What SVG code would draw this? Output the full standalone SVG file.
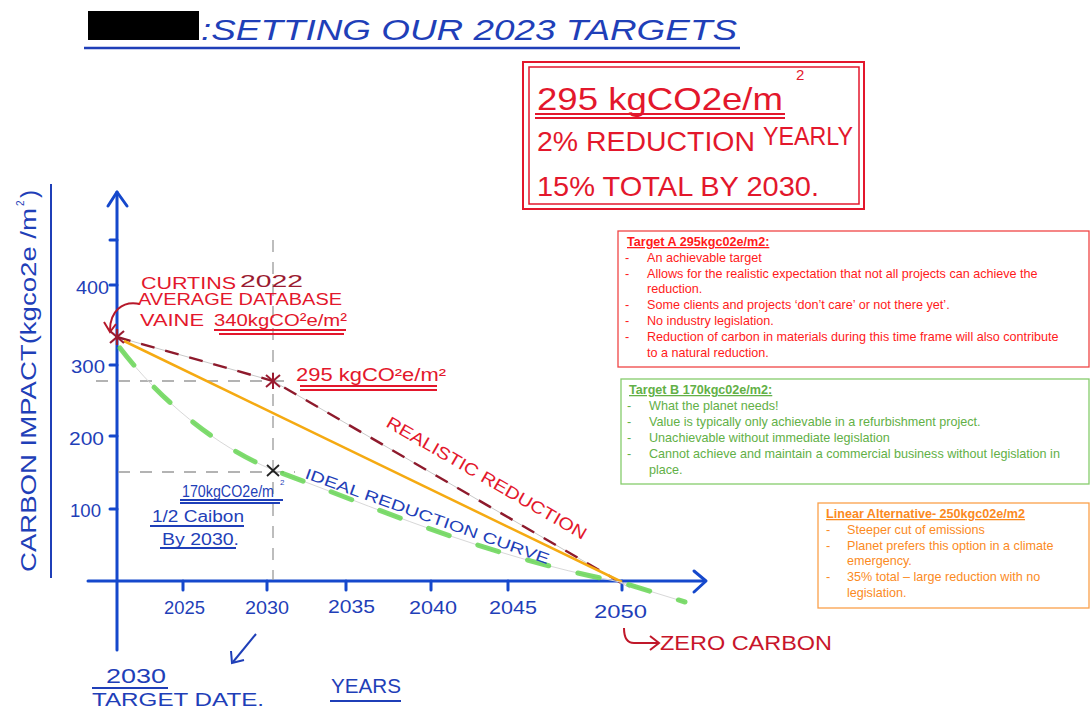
<svg xmlns="http://www.w3.org/2000/svg" width="1090" height="711" viewBox="0 0 1090 711">
  <defs>
    <style>
      .hand { font-family: "Liberation Sans", "DejaVu Sans", sans-serif; }
      .blue { fill: #1f3fb8; }
      .red { fill: #e3172c; }
      .dred { fill: #9b1b30; }
      .axis { stroke: #1548cc; stroke-width: 3; fill: none; stroke-linecap: round; stroke-linejoin: round; }
      .grid { stroke: #9a9a9a; stroke-width: 1.3; stroke-dasharray: 12 10; fill: none; }
      .ul-blue { stroke: #1f3fb8; stroke-width: 1.8; fill: none; }
      .ul-red { stroke: #e3172c; stroke-width: 2; fill: none; }
      .note { font-family: "Liberation Sans", Arial, sans-serif; font-size: 12.6px; }
      .noteh { font-weight: bold; text-decoration: underline; }
    </style>
  </defs>

  <rect width="1090" height="711" fill="#ffffff"/>

  <!-- heading -->
  <g id="title">
    <rect x="88" y="11" width="111" height="29" fill="#000000"/>
    <text class="hand blue" x="201" y="40" font-size="29" font-style="italic" textLength="536" lengthAdjust="spacingAndGlyphs">:SETTING OUR 2023 TARGETS</text>
    <line x1="84" y1="48" x2="740" y2="48" stroke="#1f3fb8" stroke-width="2.5"/>
  </g>

  <!-- headline target box -->
  <g id="target-box">
    <rect x="523" y="62" width="341" height="147" fill="none" stroke="#e3172c" stroke-width="2"/>
    <rect x="529" y="67" width="330" height="137" fill="none" stroke="#e3172c" stroke-width="1.5"/>
    <text class="hand red" x="537" y="110" font-size="32" textLength="246" lengthAdjust="spacingAndGlyphs">295 kgCO2e/m</text>
    <text class="hand red" x="796" y="80" font-size="15">2</text>
    <line class="ul-red" x1="535" y1="114" x2="785" y2="114"/>
    <line class="ul-red" x1="535" y1="118" x2="785" y2="118"/>
    <text class="hand red" x="537" y="151" font-size="27" textLength="218" lengthAdjust="spacingAndGlyphs">2% REDUCTION</text>
    <text class="hand red" x="763" y="145" font-size="26" textLength="90" lengthAdjust="spacingAndGlyphs">YEARLY</text>
    <text class="hand red" x="537" y="196" font-size="28" textLength="282" lengthAdjust="spacingAndGlyphs">15% TOTAL BY 2030.</text>
  </g>

  <!-- axes -->
  <g id="axes">
    <line class="axis" x1="117" y1="192" x2="117" y2="650"/>
    <polyline class="axis" points="108,206 117,192 127,206"/>
    <line class="axis" x1="88" y1="581" x2="705" y2="581"/>
    <polyline class="axis" points="694,571 706,581 694,592"/>
    <!-- y ticks -->
    <line class="axis" x1="110" y1="240" x2="117" y2="240"/>
    <line class="axis" x1="110" y1="285" x2="117" y2="285"/>
    <line class="axis" x1="110" y1="365" x2="117" y2="365"/>
    <line class="axis" x1="110" y1="436" x2="117" y2="436"/>
    <line class="axis" x1="110" y1="509" x2="117" y2="509"/>
    <!-- x ticks -->
    <line class="axis" x1="183" y1="581" x2="183" y2="590"/>
    <line class="axis" x1="267" y1="581" x2="267" y2="590"/>
    <line class="axis" x1="346" y1="581" x2="346" y2="590"/>
    <line class="axis" x1="431" y1="581" x2="431" y2="590"/>
    <line class="axis" x1="508" y1="581" x2="508" y2="590"/>
    <line class="axis" x1="622" y1="581" x2="622" y2="590"/>
    <!-- y values -->
    <text class="hand blue" x="76" y="294" font-size="19" textLength="33" lengthAdjust="spacingAndGlyphs">400</text>
    <text class="hand blue" x="71" y="373" font-size="19" textLength="34" lengthAdjust="spacingAndGlyphs">300</text>
    <text class="hand blue" x="69" y="445" font-size="19" textLength="35" lengthAdjust="spacingAndGlyphs">200</text>
    <text class="hand blue" x="70" y="517" font-size="19" textLength="31" lengthAdjust="spacingAndGlyphs">100</text>
    <!-- x values -->
    <text class="hand blue" x="164" y="614" font-size="18" textLength="41" lengthAdjust="spacingAndGlyphs">2025</text>
    <text class="hand blue" x="245" y="614" font-size="18" textLength="44" lengthAdjust="spacingAndGlyphs">2030</text>
    <text class="hand blue" x="328" y="613" font-size="18" textLength="47" lengthAdjust="spacingAndGlyphs">2035</text>
    <text class="hand blue" x="409" y="614" font-size="18" textLength="48" lengthAdjust="spacingAndGlyphs">2040</text>
    <text class="hand blue" x="489" y="614" font-size="18" textLength="48" lengthAdjust="spacingAndGlyphs">2045</text>
    <text class="hand blue" x="594" y="618" font-size="18" textLength="53" lengthAdjust="spacingAndGlyphs">2050</text>
    <!-- y title -->
    <text class="hand blue" transform="translate(36,572) rotate(-90)" font-size="22" textLength="364" lengthAdjust="spacingAndGlyphs">CARBON IMPACT(kgco2e /m</text>
    <text class="hand blue" transform="translate(24,206) rotate(-90)" font-size="10">2</text>
    <text class="hand blue" transform="translate(37,198) rotate(-90)" font-size="24">)</text>
    <line x1="51" y1="184" x2="51" y2="578" stroke="#1f3fb8" stroke-width="2"/>
    <!-- axis title -->
    <text class="hand blue" x="331" y="693" font-size="21" textLength="70" lengthAdjust="spacingAndGlyphs">YEARS</text>
    <line class="ul-blue" x1="330" y1="701" x2="401" y2="701"/>
  </g>

  <!-- guide lines -->
  <g id="guides">
    <line class="grid" x1="96" y1="381" x2="292" y2="381"/>
    <line class="grid" x1="118" y1="472" x2="295" y2="472"/>
    <line class="grid" x1="273" y1="240" x2="273" y2="580"/>
  </g>

  <!-- connectors: reduction paths -->
  <g id="connectors">
    <!-- realistic path -->
    <polyline points="117,337 273,381 630,588" fill="none" stroke="#c8c8c8" stroke-width="1"/>
    <polyline points="117,337 273,381 630,588" fill="none" stroke="#8e1a2c" stroke-width="2.4" stroke-dasharray="14 11"/>
    <!-- linear path -->
    <line x1="124" y1="341" x2="622" y2="582" stroke="#f5aa12" stroke-width="2.5"/>
    <!-- ideal curve -->
    <path d="M120,348 C160,400 215,446 273,470 C370,505 480,555 620,582 L685,602" fill="none" stroke="#d8d8d8" stroke-width="1"/>
    <path d="M120,348 C160,400 215,446 273,470 C370,505 480,555 620,582 L685,602" fill="none" stroke="#5ed34a" stroke-opacity="0.8" stroke-width="5" stroke-linecap="round" stroke-dasharray="22 30"/>
    <!-- pointer to 2030 -->
    <line x1="256" y1="634" x2="233" y2="662" stroke="#1f3fb8" stroke-width="2"/>
    <polyline points="231,651 232,663 244,660" fill="none" stroke="#1f3fb8" stroke-width="2"/>
    <!-- pointer to zero carbon -->
    <path d="M624,628 C624,636 626,643 634,643 L658,643" fill="none" stroke="#c0182a" stroke-width="2"/>
    <polyline points="650,636 659,643 650,650" fill="none" stroke="#c0182a" stroke-width="2"/>
    <!-- pointer to 2022 value -->
    <path d="M140,304 C122,300 110,312 110,330" fill="none" stroke="#b5182a" stroke-width="2"/>
    <polyline points="104,322 110,332 116,324" fill="none" stroke="#b5182a" stroke-width="2"/>
  </g>

  <!-- markers -->
  <g id="point-2022">
    <g stroke="#9b1b30" stroke-width="2.2">
      <line x1="110" y1="331" x2="124" y2="343"/>
      <line x1="110" y1="343" x2="124" y2="331"/>
      <line x1="117" y1="329" x2="117" y2="345"/>
    </g>
  </g>
  <g id="point-2030-realistic">
    <g stroke="#9b1b30" stroke-width="2">
      <line x1="266" y1="375" x2="280" y2="387"/>
      <line x1="266" y1="387" x2="280" y2="375"/>
      <line x1="273" y1="373" x2="273" y2="389"/>
    </g>
  </g>
  <g id="point-2030-ideal">
    <g stroke="#222222" stroke-width="1.8">
      <line x1="267" y1="465" x2="279" y2="476"/>
      <line x1="267" y1="476" x2="279" y2="465"/>
    </g>
  </g>

  <!-- chart annotations -->
  <g id="label-2022">
    <text class="hand red" x="141" y="289" font-size="16" textLength="95" lengthAdjust="spacingAndGlyphs">CURTINS</text>
    <text class="hand dred" x="240" y="287" font-size="17" textLength="63" lengthAdjust="spacingAndGlyphs">2022</text>
    <text class="hand red" x="138" y="305" font-size="16" textLength="204" lengthAdjust="spacingAndGlyphs">AVERAGE DATABASE</text>
    <text class="hand red" x="140" y="326" font-size="16" textLength="64" lengthAdjust="spacingAndGlyphs">VAINE</text>
    <text class="hand red" x="214" y="326" font-size="17" textLength="133" lengthAdjust="spacingAndGlyphs">340kgCO²e/m²</text>
    <line class="ul-red" x1="214" y1="330" x2="346" y2="330"/>
    <line class="ul-red" x1="219" y1="334" x2="344" y2="334"/>
  </g>
  <g id="label-295">
    <text class="hand red" x="296" y="381" font-size="18" textLength="150" lengthAdjust="spacingAndGlyphs">295 kgCO²e/m²</text>
    <line class="ul-red" x1="300" y1="386" x2="437" y2="386"/>
    <line class="ul-red" x1="300" y1="390" x2="437" y2="390"/>
  </g>
  <g id="label-realistic">
    <text class="hand red" transform="translate(385,426) rotate(30)" font-size="17" textLength="228" lengthAdjust="spacingAndGlyphs">REALISTIC REDUCTION</text>
  </g>
  <g id="label-ideal">
    <text class="hand blue" transform="translate(304,478) rotate(19.5)" font-size="15" textLength="258" lengthAdjust="spacingAndGlyphs">IDEAL REDUCTION CURVE</text>
  </g>
  <g id="label-170">
    <text class="hand blue" x="182" y="497" font-size="16" textLength="92" lengthAdjust="spacingAndGlyphs">170kgCO2e/m</text>
    <text class="hand blue" x="280" y="485" font-size="8">2</text>
    <line class="ul-blue" x1="180" y1="500" x2="283" y2="500"/>
    <line class="ul-blue" x1="180" y1="503" x2="280" y2="503"/>
    <text class="hand blue" x="152" y="522" font-size="16" textLength="92" lengthAdjust="spacingAndGlyphs">1/2 Caibon</text>
    <line class="ul-blue" x1="150" y1="526" x2="244" y2="526"/>
    <text class="hand blue" x="162" y="545" font-size="16" textLength="77" lengthAdjust="spacingAndGlyphs">By 2030.</text>
    <line class="ul-blue" x1="160" y1="548" x2="236" y2="548"/>
  </g>
  <g id="label-zero">
    <text x="660" y="650" font-family="Liberation Sans, sans-serif" font-size="20" fill="#c8152a" textLength="172" lengthAdjust="spacingAndGlyphs">ZERO CARBON</text>
  </g>
  <g id="label-target-date">
    <text class="hand blue" x="106" y="683" font-size="21" textLength="60" lengthAdjust="spacingAndGlyphs">2030</text>
    <line class="ul-blue" x1="92" y1="688" x2="168" y2="688"/>
    <text class="hand blue" x="92" y="706" font-size="19" textLength="172" lengthAdjust="spacingAndGlyphs">TARGET DATE.</text>
  </g>

  <!-- option notes -->
  <g id="note-target-a" class="note" fill="#ff1a1a">
    <rect x="618" y="231" width="471" height="136" fill="#ffffff" stroke="#f04545" stroke-width="1.3"/>
    <text x="627" y="246" class="noteh">Target A 295kgc02e/m2:</text>
    <text x="625" y="262">-</text><text x="647" y="262">An achievable target</text>
    <text x="625" y="278">-</text><text x="647" y="278">Allows for the realistic expectation that not all projects can achieve the</text>
    <text x="647" y="293">reduction.</text>
    <text x="625" y="309">-</text><text x="647" y="309">Some clients and projects ‘don’t care’ or not there yet’.</text>
    <text x="625" y="325">-</text><text x="647" y="325">No industry legislation.</text>
    <text x="625" y="341">-</text><text x="647" y="341">Reduction of carbon in materials during this time frame will also contribute</text>
    <text x="647" y="357">to a natural reduction.</text>
  </g>
  <g id="note-target-b" class="note" fill="#62b046">
    <rect x="621" y="379" width="468" height="105" fill="#ffffff" stroke="#86cc6c" stroke-width="1.3"/>
    <text x="629" y="394" class="noteh">Target B 170kgc02e/m2:</text>
    <text x="627" y="410">-</text><text x="649" y="410">What the planet needs!</text>
    <text x="627" y="426">-</text><text x="649" y="426">Value is typically only achievable in a refurbishment project.</text>
    <text x="627" y="442">-</text><text x="649" y="442">Unachievable without immediate legislation</text>
    <text x="627" y="458">-</text><text x="649" y="458">Cannot achieve and maintain a commercial business without legislation in</text>
    <text x="649" y="474">place.</text>
  </g>
  <g id="note-linear" class="note" fill="#fb8a1e">
    <rect x="818" y="503" width="271" height="105" fill="#ffffff" stroke="#fba04a" stroke-width="1.3"/>
    <text x="826" y="518" class="noteh">Linear Alternative- 250kgc02e/m2</text>
    <text x="826" y="534">-</text><text x="847" y="534">Steeper cut of emissions</text>
    <text x="826" y="550">-</text><text x="847" y="550">Planet prefers this option in a climate</text>
    <text x="847" y="565">emergency.</text>
    <text x="826" y="581">-</text><text x="847" y="581">35% total – large reduction with no</text>
    <text x="847" y="597">legislation.</text>
  </g>
</svg>
